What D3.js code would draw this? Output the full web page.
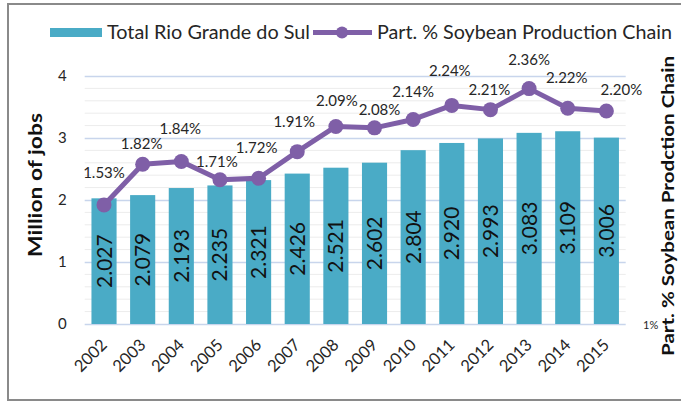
<!DOCTYPE html>
<html>
<head>
<meta charset="utf-8">
<script src="https://cdn.jsdelivr.net/npm/d3@7"></script>
<style>
  html, body { margin: 0; padding: 0; background: #fff; }
  svg { display: block; font-family: Lato, "Open Sans", sans-serif; }
</style>
</head>
<body>
<svg id="chart" width="681" height="405"></svg>
<script>
// Employment in Rio Grande do Sul and the soybean chain's share of it
const years = ["2002", "2003", "2004", "2005", "2006", "2007", "2008",
               "2009", "2010", "2011", "2012", "2013", "2014", "2015"];
const totalJobs = [2.027, 2.079, 2.193, 2.235, 2.321, 2.426, 2.521,
                   2.602, 2.804, 2.920, 2.993, 3.083, 3.109, 3.006];
const soyShare = [1.53, 1.82, 1.84, 1.71, 1.72, 1.91, 2.09,
                  2.08, 2.14, 2.24, 2.21, 2.36, 2.22, 2.20];
const leftTicks = [0, 1, 2, 3, 4];
const rightTickLabels = ["1%"];
const seriesNames = ["Total Rio Grande do Sul", "Part. % Soybean Production Chain"];
const leftTitle = "Million of jobs";
const rightTitle = "Part. % Soybean Prodction Chain";

const BAR = "#4aabc6";
const LINE = "#7f5fa7";
const MAJOR = "#c8d5ec";
const MINOR = "#ececec";
const INK = "#262626";

const svg = d3.select("#chart");
const plot = { left: 84.7, right: 625.7, top: 76, bottom: 324 };

const x = d3.scaleBand().domain(years)
  .range([plot.left, plot.right]).paddingInner(0.35).paddingOuter(0.175);
const y = d3.scaleLinear().domain([0, 4]).range([plot.bottom, plot.top]);
const yPct = d3.scaleLinear().domain([0.68, 2.45]).range([plot.bottom, plot.top]);

// frame around the chart
svg.append("rect")
  .attr("x", 8).attr("y", 4).attr("width", 690).attr("height", 396)
  .attr("fill", "none").attr("stroke", "#8a8a8a").attr("stroke-width", 2);

// minor gridlines every 0.2
const minor = d3.range(0.2, 4, 0.2).filter(v => Math.abs(v - Math.round(v)) > 1e-6);
svg.append("g").selectAll("line").data(minor).join("line")
  .attr("x1", plot.left).attr("x2", plot.right)
  .attr("y1", d => y(d)).attr("y2", d => y(d))
  .attr("stroke", MINOR).attr("stroke-width", 1);

// left axis with major gridlines
const leftAxis = svg.append("g")
  .attr("transform", `translate(${plot.left},0)`)
  .call(d3.axisLeft(y).tickValues(leftTicks).tickFormat(d3.format("d"))
    .tickSize(-(plot.right - plot.left)).tickPadding(18));
leftAxis.select(".domain").remove();
leftAxis.selectAll(".tick line").attr("stroke", MAJOR).attr("stroke-width", 1.3);
leftAxis.selectAll(".tick text")
  .attr("fill", INK).style("font-size", "15px").style("font-family", "Lato");

// bars
svg.append("g").selectAll("rect").data(years).join("rect")
  .attr("x", d => x(d))
  .attr("y", (d, i) => y(totalJobs[i]))
  .attr("width", x.bandwidth())
  .attr("height", (d, i) => y(0) - y(totalJobs[i]))
  .attr("fill", BAR);

// values written inside the bars
svg.append("g").selectAll("text").data(years).join("text")
  .attr("transform", (d, i) => {
    const cx = x(d) + x.bandwidth() / 2;
    const cy = (y(totalJobs[i]) + y(0)) / 2;
    return `translate(${cx + 7.5},${cy}) rotate(-90)`;
  })
  .attr("text-anchor", "middle")
  .attr("fill", "#111")
  .style("font-size", "21px")
  .text((d, i) => d3.format(".3f")(totalJobs[i]));

// share line
const cxOf = d => x(d) + x.bandwidth() / 2;
const line = d3.line().x((d, i) => cxOf(years[i])).y(d => yPct(d));
svg.append("path").datum(soyShare)
  .attr("d", line).attr("fill", "none")
  .attr("stroke", LINE).attr("stroke-width", 5).attr("stroke-linejoin", "round");
svg.append("g").selectAll("circle").data(soyShare).join("circle")
  .attr("cx", (d, i) => cxOf(years[i])).attr("cy", d => yPct(d))
  .attr("r", 7.5).attr("fill", LINE);

// share labels, nudged clear of the line
const labelDx = [0, -1, -1, -3, -2, -3, 1, 5, 0, -2, -1, 0, -1, 15];
const labelDy = [27, 15, 27, 13, 25, 25, 20, 13, 22, 29, 15, 24, 25, 16];
svg.append("g").selectAll("text").data(soyShare).join("text")
  .attr("x", (d, i) => cxOf(years[i]) + labelDx[i])
  .attr("y", (d, i) => yPct(d) - labelDy[i])
  .attr("text-anchor", "middle")
  .attr("fill", INK)
  .style("font-size", "15px")
  .text(d => d3.format(".2f")(d) + "%");

// year labels
svg.append("g").selectAll("text").data(years).join("text")
  .attr("transform", d => `translate(${cxOf(d) + 4},${plot.bottom + 22}) rotate(-45)`)
  .attr("text-anchor", "end")
  .attr("fill", INK)
  .style("font-size", "16.5px")
  .text(d => d);

// right axis label
svg.append("g").selectAll("text").data(rightTickLabels).join("text")
  .attr("x", 643).attr("y", plot.bottom + 5)
  .attr("fill", INK).style("font-size", "11px")
  .text(d => d);

// axis titles
svg.append("text")
  .attr("transform", `translate(42,185) rotate(-90)`)
  .attr("text-anchor", "middle").attr("fill", "#111")
  .attr("textLength", 144).attr("lengthAdjust", "spacingAndGlyphs")
  .style("font-size", "19px").style("font-weight", "bold")
  .text(leftTitle);
svg.append("text")
  .attr("transform", `translate(674,206) rotate(-90)`)
  .attr("text-anchor", "middle").attr("fill", "#111")
  .attr("textLength", 300).attr("lengthAdjust", "spacingAndGlyphs")
  .style("font-size", "17.5px").style("font-weight", "bold")
  .text(rightTitle);

// legend
const legend = svg.append("g");
legend.append("rect").attr("x", 50).attr("y", 28).attr("width", 52).attr("height", 9).attr("fill", BAR);
legend.append("text").attr("x", 107).attr("y", 38.5)
  .attr("textLength", 203).attr("lengthAdjust", "spacingAndGlyphs")
  .attr("fill", INK).style("font-size", "18.5px").text(seriesNames[0]);
legend.append("line").attr("x1", 313).attr("x2", 372).attr("y1", 32.5).attr("y2", 32.5)
  .attr("stroke", LINE).attr("stroke-width", 5);
legend.append("circle").attr("cx", 342).attr("cy", 32.5).attr("r", 6).attr("fill", LINE);
legend.append("text").attr("x", 377).attr("y", 38.5)
  .attr("textLength", 295).attr("lengthAdjust", "spacingAndGlyphs")
  .attr("fill", INK).style("font-size", "18.5px").text(seriesNames[1]);
</script>
</body>
</html>
